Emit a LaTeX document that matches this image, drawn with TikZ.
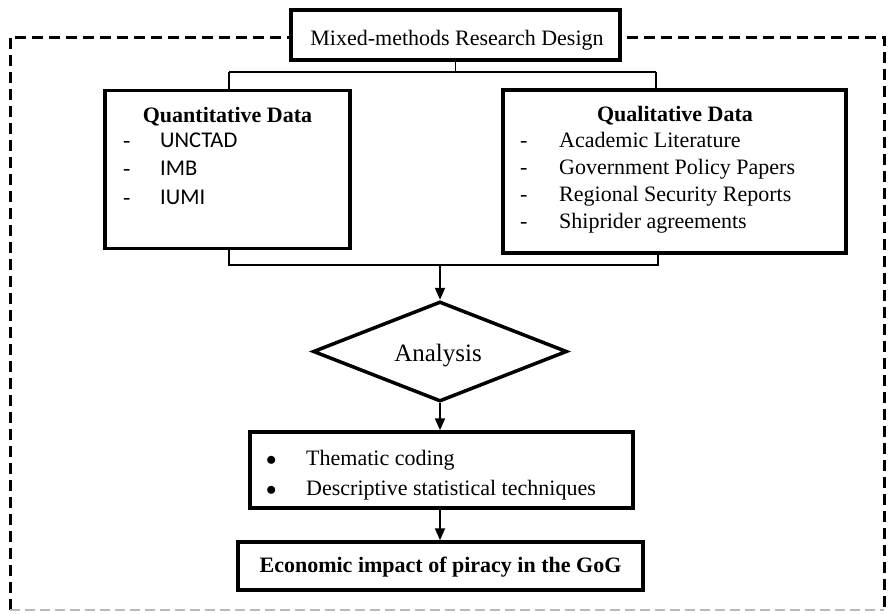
\documentclass[tikz,border=0pt]{standalone}
\usepackage{fontspec}
\setmainfont{Liberation Serif}
\newfontfamily\listsans{Carlito}
\usetikzlibrary{shapes.geometric,arrows.meta}
\begin{document}
\begin{tikzpicture}[x=1pt,y=-1pt,
  box/.style={draw,line width=3.5pt,inner sep=0pt},
  conn/.style={line width=1.4pt},
  flow/.style={line width=2pt,-{Triangle[width=10pt,length=12pt]}},
  frame/.style={line width=3pt,dash pattern=on 11pt off 6pt},
  txt/.style={inner sep=0pt,anchor=base,font=\fontsize{22}{24}\selectfont},
  item/.style={inner sep=0pt,anchor=base west,font=\fontsize{22}{24}\selectfont},
  sitem/.style={inner sep=0pt,anchor=base west,font=\listsans\fontsize{22.5}{24}\selectfont}]
\useasboundingbox (0,0) rectangle (888,613);
\fill[white] (0,0) rectangle (888,613);

% dashed frame
\draw[frame] (10,610) -- (10,37) -- (884,37) -- (884,610);
\draw[line width=1.8pt,gray!55,dash pattern=on 10pt off 5pt] (10,610) -- (884,610);

% top box
\node[box,fill=white,minimum width=329pt,minimum height=50pt] (design) at (455.5,35) {};
\node[txt] (designT) at (457,45) {Mixed-methods Research Design};

% data boxes
\node[box,minimum width=245pt,minimum height=158pt] (quant) at (227.5,169.5) {};
\node[txt,font=\bfseries\fontsize{22}{24}\selectfont] (quantT) at (227.5,122) {Quantitative Data};
\node[item] (q1d) at (123,147) {-};
\node[sitem] (q1) at (160,147) {UNCTAD};
\node[item] (q2d) at (123,175.5) {-};
\node[sitem] (q2) at (160,175.5) {IMB};
\node[item] (q3d) at (123,204) {-};
\node[sitem] (q3) at (160,204) {IUMI};

\node[box,minimum width=343pt,minimum height=163pt] (qual) at (674.5,171.5) {};
\node[txt,font=\bfseries\fontsize{22}{24}\selectfont] (qualT) at (675,121) {Qualitative Data};
\node[item] (l1d) at (520,147) {-};
\node[item] (l1) at (559,147) {Academic Literature};
\node[item] (l2d) at (520,174) {-};
\node[item] (l2) at (559,174) {Government Policy Papers};
\node[item] (l3d) at (520,201) {-};
\node[item] (l3) at (559,201) {Regional Security Reports};
\node[item] (l4d) at (520,228) {-};
\node[item] (l4) at (559,228) {Shiprider agreements};

% branching connectors
\coordinate (split) at (455.5,72);
\coordinate (splitL) at (229,72);
\coordinate (splitR) at (656,72);
\coordinate (joinL) at (229,265);
\coordinate (joinR) at (658,265);
\coordinate (join) at (440,265);
\draw[conn] (design.south) -- (split);
\draw[conn] (splitL) -- (splitR);
\draw[conn] (splitL) -- (splitL |- quant.north);
\draw[conn] (splitR) -- (splitR |- qual.north);
\draw[conn] (joinL |- quant.south) -- (joinL) -- (joinR) -- (joinR |- qual.south);

% analysis
\node[draw,line width=3.5pt,diamond,aspect=2.55,minimum width=254pt,minimum height=100pt,inner sep=0pt] (analysis) at (440,351.5) {};
\node[txt,font=\fontsize{25}{28}\selectfont] (analysisT) at (438,361) {Analysis};
\draw[flow] (join) -- (analysis.north);

% methods
\node[box,minimum width=383pt,minimum height=76pt] (methods) at (441.5,470) {};
\node[item] (m1b) at (266,465) {$\bullet$};
\node[item] (m1) at (306,465) {Thematic coding};
\node[item] (m2b) at (266,495) {$\bullet$};
\node[item] (m2) at (306,495) {Descriptive statistical techniques};
\draw[flow] (analysis.south) -- (methods.north -| analysis.south);

% outcome
\node[box,minimum width=405pt,minimum height=48pt] (impact) at (440.5,566) {};
\node[txt,font=\bfseries\fontsize{22}{24}\selectfont] (impactT) at (440.5,572) {Economic impact of piracy in the GoG};
\draw[flow] (methods.south -| analysis.south) -- (impact.north -| analysis.south);
\end{tikzpicture}
\end{document}
